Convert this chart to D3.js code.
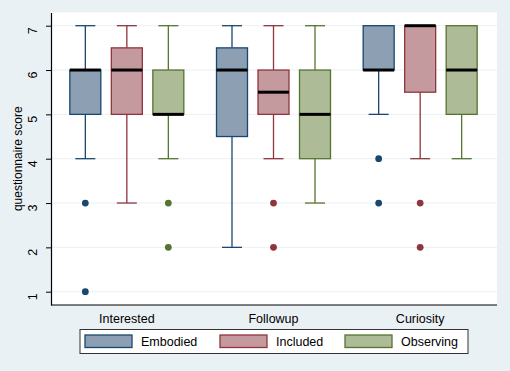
<!DOCTYPE html>
<html>
<head>
<meta charset="utf-8">
<script src="https://cdn.jsdelivr.net/npm/d3@7"></script>
<style>
  body { margin: 0; background: #eaf1f4; }
  svg { display: block; font-family: "Liberation Sans", Arial, sans-serif; }
</style>
</head>
<body>
<div id="chart"></div>
<script>
var width = 510, height = 371;

var categories = ["Interested", "Followup", "Curiosity"];
var groups = ["Embodied", "Included", "Observing"];
var yTicks = [1, 2, 3, 4, 5, 6, 7];

// [lower whisker, q1, median, q3, upper whisker] per category, one list per group
var embodiedStats = [[4, 5, 6, 6, 7], [2, 4.5, 6, 6.5, 7], [5, 6, 6, 7, 7]];
var includedStats = [[3, 5, 6, 6.5, 7], [4, 5, 5.5, 6, 7], [4, 5.5, 7, 7, 7]];
var observingStats = [[4, 5, 5, 6, 7], [3, 4, 5, 6, 7], [4, 5, 6, 7, 7]];

var embodiedOutliers = [[3, 1], [], [4, 3]];
var includedOutliers = [[], [3, 2], [3, 2]];
var observingOutliers = [[3, 2], [], []];

var strokeColors = ["#1a476f", "#90353b", "#55752f"];
var fillColors = ["#8d9fb2", "#c49a9e", "#adbb96"];

var stats = [embodiedStats, includedStats, observingStats];
var outliers = [embodiedOutliers, includedOutliers, observingOutliers];

var rows = [];
groups.forEach(function(g, gi) {
  categories.forEach(function(c, ci) {
    var s = stats[gi][ci];
    rows.push({ cat: c, group: g, gi: gi, lo: s[0], q1: s[1], med: s[2], q3: s[3], hi: s[4], out: outliers[gi][ci] });
  });
});

var svg = d3.select("#chart").append("svg")
  .attr("width", width).attr("height", height);

svg.append("rect").attr("width", width).attr("height", height).attr("fill", "#eaf1f4");

var plotLeft = 51, plotRight = 497, plotTop = 12.4, plotBottom = 305;

svg.append("rect")
  .attr("x", plotLeft).attr("y", plotTop)
  .attr("width", plotRight - plotLeft).attr("height", plotBottom - plotTop)
  .attr("fill", "#ffffff");

var y = d3.scaleLinear().domain([0.7, 7.3]).range([plotBottom, plotTop]);
var x = d3.scaleBand().domain(categories).range([53.5, 493.5]);
var xs = d3.scalePoint().domain(groups).range([-41.5, 41.5]);
var boxW = 31, capW = 20;

// grid
svg.append("g").selectAll("line").data(yTicks).join("line")
  .attr("x1", plotLeft).attr("x2", plotRight)
  .attr("y1", function(d) { return y(d); }).attr("y2", function(d) { return y(d); })
  .attr("stroke", "#eaf0f2").attr("stroke-width", 1);

// y axis
var yAxis = svg.append("g")
  .attr("transform", "translate(" + plotLeft + ",0)")
  .call(d3.axisLeft(y).tickValues(yTicks).tickFormat(d3.format("d")).tickSize(5).tickPadding(4).tickSizeOuter(0));
yAxis.select(".domain").attr("stroke", "#000").attr("stroke-width", 1.2);
yAxis.selectAll(".tick line").attr("stroke", "#000");
yAxis.selectAll(".tick text")
  .attr("font-size", 12.5).attr("fill", "#000")
  .attr("text-anchor", "middle")
  .attr("x", 0).attr("dy", 0)
  .attr("transform", "translate(-14,4.5) rotate(-90)");

svg.append("text")
  .attr("transform", "translate(22," + ((plotTop + plotBottom) / 2) + ") rotate(-90)")
  .attr("text-anchor", "middle").attr("font-size", 12).attr("fill", "#000")
  .text("questionnaire score");

// x axis
var xAxis = svg.append("g")
  .attr("transform", "translate(0," + plotBottom + ")")
  .call(d3.axisBottom(x).tickSize(0).tickPadding(9).tickSizeOuter(0));
xAxis.select(".domain").attr("stroke", "#000").attr("stroke-width", 1.2)
  .attr("d", "M" + plotLeft + ",0H" + plotRight);
xAxis.selectAll(".tick text").attr("font-size", 12.5).attr("fill", "#000");

function cx(d) { return x(d.cat) + x.bandwidth() / 2 + xs(d.group); }

var boxes = svg.append("g").selectAll("g").data(rows).join("g");

// whiskers
boxes.append("line")
  .attr("x1", cx).attr("x2", cx)
  .attr("y1", function(d) { return y(d.lo); }).attr("y2", function(d) { return y(d.q1); })
  .attr("stroke", function(d) { return strokeColors[d.gi]; }).attr("stroke-width", 1.3);
boxes.append("line")
  .attr("x1", cx).attr("x2", cx)
  .attr("y1", function(d) { return y(d.q3); }).attr("y2", function(d) { return y(d.hi); })
  .attr("stroke", function(d) { return strokeColors[d.gi]; }).attr("stroke-width", 1.3);
boxes.filter(function(d) { return d.lo < d.q1; }).append("line")
  .attr("x1", function(d) { return cx(d) - capW / 2; }).attr("x2", function(d) { return cx(d) + capW / 2; })
  .attr("y1", function(d) { return y(d.lo); }).attr("y2", function(d) { return y(d.lo); })
  .attr("stroke", function(d) { return strokeColors[d.gi]; }).attr("stroke-width", 1.3);
boxes.filter(function(d) { return d.hi > d.q3; }).append("line")
  .attr("x1", function(d) { return cx(d) - capW / 2; }).attr("x2", function(d) { return cx(d) + capW / 2; })
  .attr("y1", function(d) { return y(d.hi); }).attr("y2", function(d) { return y(d.hi); })
  .attr("stroke", function(d) { return strokeColors[d.gi]; }).attr("stroke-width", 1.3);

// boxes
boxes.append("rect")
  .attr("x", function(d) { return cx(d) - boxW / 2; })
  .attr("y", function(d) { return y(d.q3); })
  .attr("width", boxW)
  .attr("height", function(d) { return y(d.q1) - y(d.q3); })
  .attr("fill", function(d) { return fillColors[d.gi]; })
  .attr("stroke", function(d) { return strokeColors[d.gi]; }).attr("stroke-width", 1.3);

// medians
boxes.append("line")
  .attr("x1", function(d) { return cx(d) - boxW / 2; }).attr("x2", function(d) { return cx(d) + boxW / 2; })
  .attr("y1", function(d) { return y(d.med); }).attr("y2", function(d) { return y(d.med); })
  .attr("stroke", "#000").attr("stroke-width", 3);

// outliers
boxes.selectAll("circle").data(function(d) { return d.out.map(function(v) { return { v: v, d: d }; }); })
  .join("circle")
  .attr("cx", function(o) { return cx(o.d); })
  .attr("cy", function(o) { return y(o.v); })
  .attr("r", 3.4)
  .attr("fill", function(o) { return strokeColors[o.d.gi]; });

// legend
var legend = svg.append("g");
legend.append("rect")
  .attr("x", 80).attr("y", 329.5).attr("width", 388).attr("height", 24)
  .attr("fill", "#fff").attr("stroke", "#333").attr("stroke-width", 1);
var legX = [85, 220, 345];
var items = legend.selectAll("g").data(groups).join("g")
  .attr("transform", function(d, i) { return "translate(" + legX[i] + ",335)"; });
items.append("rect")
  .attr("width", 47).attr("height", 12.5)
  .attr("fill", function(d, i) { return fillColors[i]; })
  .attr("stroke", function(d, i) { return strokeColors[i]; }).attr("stroke-width", 1.3);
items.append("text")
  .attr("x", 56).attr("y", 11).attr("font-size", 12.5).attr("fill", "#000")
  .text(function(d) { return d; });
</script>
</body>
</html>
